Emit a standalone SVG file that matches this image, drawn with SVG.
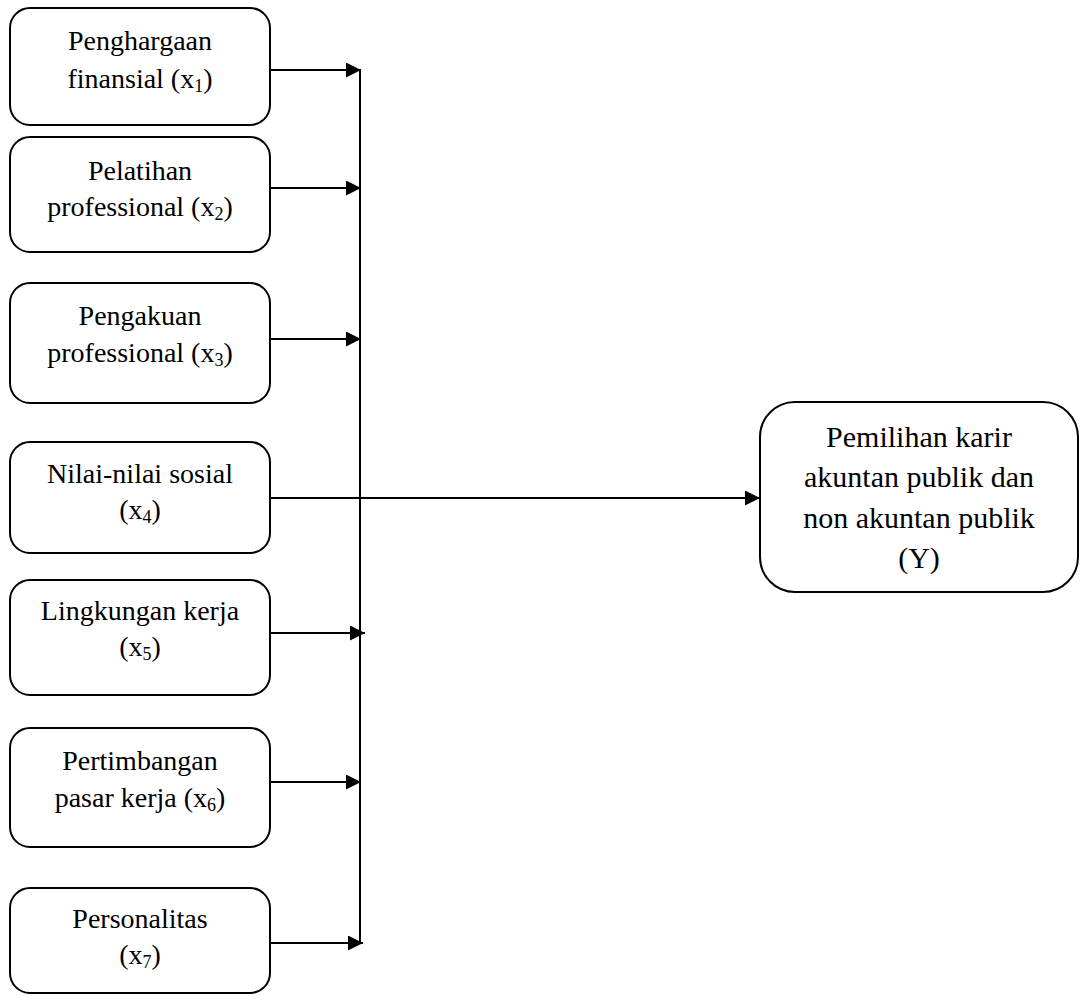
<svg xmlns="http://www.w3.org/2000/svg" width="1081" height="996" viewBox="0 0 1081 996">
<style>
.box{fill:#fff;stroke:#000;stroke-width:2}
.t{font-family:"Liberation Serif","Times New Roman",serif;font-size:28px;fill:#000;text-anchor:middle}
.ty{font-size:30px}
.sub{font-size:18px}
.c{stroke:#000;stroke-width:2;fill:none}
</style>
<defs>
<marker id="ah" markerUnits="userSpaceOnUse" markerWidth="16" markerHeight="16" refX="15" refY="7.5" orient="auto">
<path d="M0,0 L15,7.5 L0,15 z" fill="#000"/>
</marker>
</defs>
<rect width="1081" height="996" fill="#fff"/>
<g id="connectors">
<line class="c" x1="360" y1="70" x2="360" y2="943"/>
<line class="c" x1="270" y1="70" x2="361" y2="70" marker-end="url(#ah)"/>
<line class="c" x1="267" y1="188" x2="361" y2="188" marker-end="url(#ah)"/>
<line class="c" x1="267" y1="339" x2="361" y2="339" marker-end="url(#ah)"/>
<line class="c" x1="270" y1="498" x2="760" y2="498" marker-end="url(#ah)"/>
<line class="c" x1="270" y1="633" x2="365" y2="633" marker-end="url(#ah)"/>
<line class="c" x1="267" y1="782" x2="361" y2="782" marker-end="url(#ah)"/>
<line class="c" x1="268" y1="943" x2="363" y2="943" marker-end="url(#ah)"/>
</g>
<g id="x1">
<rect class="box" x="10" y="8" width="260" height="117" rx="20"/>
<text class="t" x="140" y="50">Penghargaan</text>
<text class="t" x="140" y="88">finansial (x<tspan class="sub" dy="4">1</tspan><tspan dy="-4">)</tspan></text>
</g>
<g id="x2">
<rect class="box" x="10" y="137" width="260" height="115" rx="20"/>
<text class="t" x="140" y="180">Pelatihan</text>
<text class="t" x="140" y="216">professional (x<tspan class="sub" dy="4">2</tspan><tspan dy="-4">)</tspan></text>
</g>
<g id="x3">
<rect class="box" x="10" y="283" width="260" height="120" rx="20"/>
<text class="t" x="140" y="325">Pengakuan</text>
<text class="t" x="140" y="362">professional (x<tspan class="sub" dy="4">3</tspan><tspan dy="-4">)</tspan></text>
</g>
<g id="x4">
<rect class="box" x="10" y="442" width="260" height="111" rx="20"/>
<text class="t" x="140" y="483">Nilai-nilai sosial</text>
<text class="t" x="140" y="519">(x<tspan class="sub" dy="4">4</tspan><tspan dy="-4">)</tspan></text>
</g>
<g id="x5">
<rect class="box" x="10" y="580" width="260" height="115" rx="20"/>
<text class="t" x="140" y="620">Lingkungan kerja</text>
<text class="t" x="140" y="656">(x<tspan class="sub" dy="4">5</tspan><tspan dy="-4">)</tspan></text>
</g>
<g id="x6">
<rect class="box" x="10" y="728" width="260" height="119" rx="20"/>
<text class="t" x="140" y="770">Pertimbangan</text>
<text class="t" x="140" y="807">pasar kerja (x<tspan class="sub" dy="4">6</tspan><tspan dy="-4">)</tspan></text>
</g>
<g id="x7">
<rect class="box" x="10" y="888" width="260" height="105" rx="20"/>
<text class="t" x="140" y="928">Personalitas</text>
<text class="t" x="140" y="964">(x<tspan class="sub" dy="4">7</tspan><tspan dy="-4">)</tspan></text>
</g>
<g id="y">
<rect class="box" x="760" y="402" width="318" height="190" rx="35"/>
<text class="t ty" x="919" y="447">Pemilihan karir</text>
<text class="t ty" x="919" y="487">akuntan publik dan</text>
<text class="t ty" x="919" y="528">non akuntan publik</text>
<text class="t ty" x="919" y="568">(Y)</text>
</g>
</svg>
